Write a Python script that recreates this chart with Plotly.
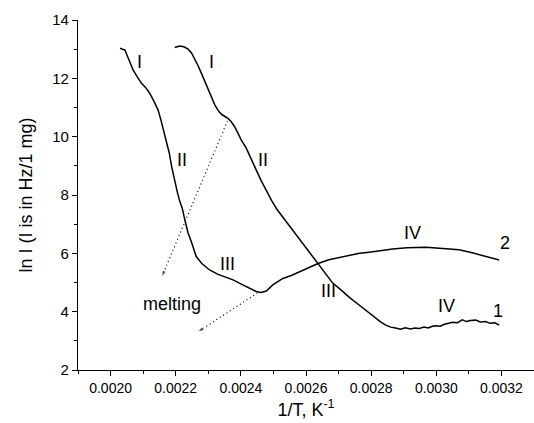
import plotly.graph_objects as go

# Curve 1 (right-hand branch)
x1 = [0.002197, 0.002212, 0.002225, 0.002238, 0.002248, 0.002258, 0.002268, 0.002279,
      0.002289, 0.002299, 0.002310, 0.002320, 0.002330, 0.002340, 0.002350, 0.002360,
      0.002370, 0.002381, 0.002391, 0.002401, 0.002417, 0.002430, 0.002447, 0.002462,
      0.002478, 0.002495, 0.002510, 0.002529, 0.002555, 0.002580, 0.002605, 0.002636,
      0.002660, 0.002682, 0.002710, 0.002734, 0.002764, 0.002790, 0.002815, 0.002830,
      0.002845, 0.002860, 0.002875, 0.002890, 0.002905, 0.002920, 0.002935, 0.002948,
      0.002962, 0.002975, 0.002988, 0.002999, 0.003012, 0.003025, 0.003038, 0.003050,
      0.003065, 0.003080, 0.003092, 0.003105, 0.003121, 0.003135, 0.003152, 0.003165,
      0.003180, 0.003193]
y1 = [13.06, 13.11, 13.08, 13.00, 12.88, 12.69, 12.45, 12.17,
      11.90, 11.60, 11.33, 11.09, 10.90, 10.77, 10.70, 10.63,
      10.52, 10.34, 10.12, 9.89, 9.60, 9.26, 8.86, 8.50,
      8.14, 7.80, 7.52, 7.24, 6.84, 6.46, 6.08, 5.66,
      5.30, 4.98, 4.72, 4.48, 4.22, 3.98, 3.77, 3.64,
      3.54, 3.47, 3.44, 3.40, 3.45, 3.41, 3.44, 3.42,
      3.47, 3.44, 3.50, 3.52, 3.50, 3.57, 3.60, 3.64,
      3.62, 3.72, 3.66, 3.70, 3.71, 3.65, 3.66, 3.60,
      3.62, 3.54]

# Curve 2 (left-hand branch)
x2 = [0.002029, 0.002044, 0.002057, 0.002069, 0.002082, 0.002095, 0.002108, 0.002120,
      0.002133, 0.002146, 0.002155, 0.002163, 0.002172, 0.002180, 0.002188, 0.002197,
      0.002205, 0.002212, 0.002220, 0.002228, 0.002238, 0.002248, 0.002256, 0.002263,
      0.002280, 0.002304, 0.002330, 0.002355, 0.002376, 0.002406, 0.002427, 0.002447,
      0.002462, 0.002478, 0.002498, 0.002515, 0.002529, 0.002555, 0.002580, 0.002610,
      0.002637, 0.002670, 0.002713, 0.002764, 0.002794, 0.002830, 0.002866, 0.002910,
      0.002968, 0.003020, 0.003070, 0.003110, 0.003150, 0.003193]
y2 = [13.03, 12.97, 12.62, 12.29, 12.05, 11.83, 11.68, 11.49,
      11.22, 10.91, 10.55, 10.20, 9.85, 9.45, 8.95, 8.45,
      8.10, 7.80, 7.55, 7.15, 6.70, 6.40, 6.10, 5.89,
      5.65, 5.43, 5.28, 5.17, 5.09, 4.92, 4.80, 4.69,
      4.66, 4.71, 4.92, 5.05, 5.14, 5.24, 5.37, 5.52,
      5.65, 5.78, 5.89, 6.00, 6.04, 6.10, 6.15, 6.19,
      6.21, 6.17, 6.12, 6.02, 5.90, 5.77]

# Dotted arrows marking the melting points
arrow_a_x = [0.002359, 0.002157]
arrow_a_y = [10.54, 5.19]
arrow_b_x = [0.002451, 0.002267]
arrow_b_y = [4.64, 3.30]

# Text labels: (x, y, text)
labels = [
    (0.00209, 12.57, "I"), (0.00231, 12.57, "I"),
    (0.002218, 9.2, "II"), (0.002467, 9.2, "II"),
    (0.00236, 5.62, "III"), (0.002668, 4.71, "III"),
    (0.002928, 6.71, "IV"), (0.00303, 4.20, "IV"),
    (0.003212, 6.36, "2"), (0.00319, 4.02, "1"),
    (0.00219, 4.25, "melting"),
]

FONT = "Liberation Sans, Arial, sans-serif"

fig = go.Figure()
for xs, ys in [(x1, y1), (x2, y2)]:
    fig.add_trace(go.Scatter(x=xs, y=ys, mode="lines",
                             line=dict(color="black", width=1.5),
                             showlegend=False, hoverinfo="skip"))

for xs, ys in [(arrow_a_x, arrow_a_y), (arrow_b_x, arrow_b_y)]:
    fig.add_trace(go.Scatter(x=xs, y=ys, mode="lines+markers",
                             line=dict(color="black", width=1.2, dash="1px,3px"),
                             marker=dict(symbol="arrow", angleref="previous",
                                         size=[0, 7], color="black"),
                             showlegend=False, hoverinfo="skip"))

for lx, ly, txt in labels:
    fig.add_annotation(x=lx, y=ly, text=txt, showarrow=False,
                       font=dict(family=FONT, size=18, color="black"))

fig.update_layout(
    width=534, height=423,
    margin=dict(l=78, r=0, t=20, b=53),
    paper_bgcolor="white", plot_bgcolor="white",
    font=dict(family=FONT, color="black"),
)
fig.update_xaxes(
    range=[0.0019, 0.0033], tick0=0.0020, dtick=0.0002, tickformat=".4f",
    showgrid=False, zeroline=False, showline=True, linecolor="black", linewidth=1.2,
    ticks="outside", ticklen=5, tickwidth=1.2, tickcolor="black",
    minor=dict(dtick=0.0001, ticks="outside", ticklen=3, tickwidth=1.2, tickcolor="black"),
    tickfont=dict(family=FONT, size=14),
    title=dict(text="1/T, K<sup>-1</sup>", font=dict(family=FONT, size=18), standoff=8),
)
fig.update_yaxes(
    range=[2, 14], dtick=2,
    showgrid=False, zeroline=False, showline=True, linecolor="black", linewidth=1.2,
    ticks="outside", ticklen=5, tickwidth=1.2, tickcolor="black",
    minor=dict(dtick=1, ticks="outside", ticklen=3, tickwidth=1.2, tickcolor="black"),
    tickfont=dict(family=FONT, size=15),
    title=dict(text="ln I (I is in Hz/1 mg)", font=dict(family=FONT, size=18), standoff=14),
)

fig.write_html("out.html")
